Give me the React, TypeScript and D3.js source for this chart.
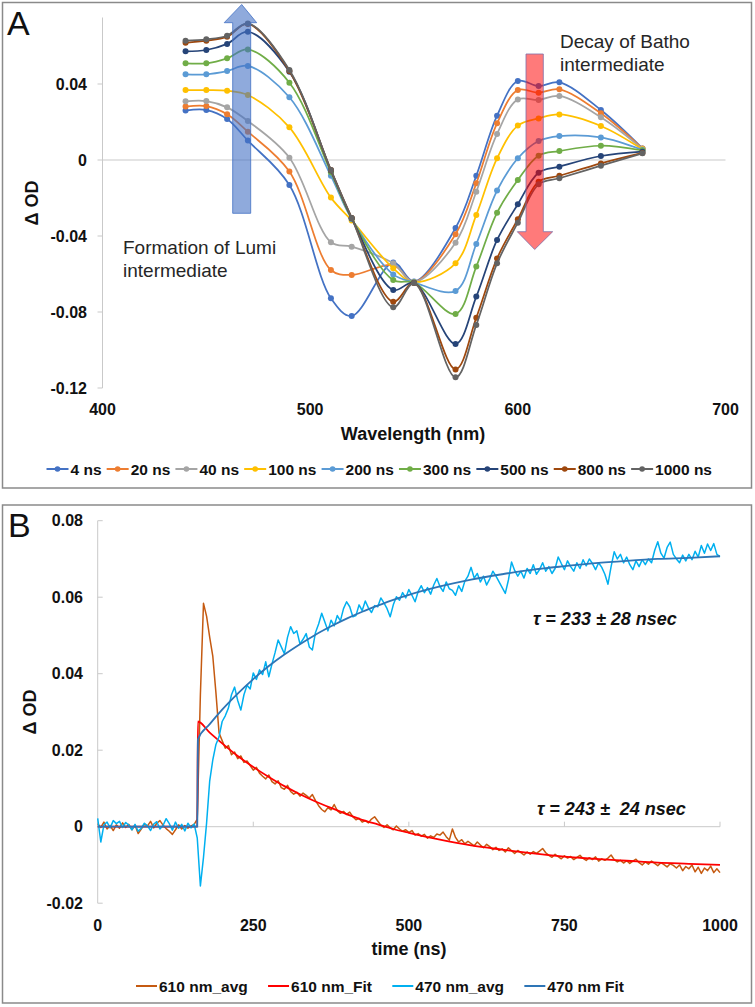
import React from 'react';
import * as d3 from 'd3';

const FONT = "Arial, 'Liberation Sans', Helvetica, sans-serif";

// ---------------- Panel A data ----------------
const wavelengths = [440, 450, 460, 470, 490, 510, 520, 540, 550, 570, 580, 590, 600, 610, 620, 640, 660];
const seriesNames = ['4 ns', '20 ns', '40 ns', '100 ns', '200 ns', '300 ns', '500 ns', '800 ns', '1000 ns'];
const seriesColors = ['#4472C4', '#ED7D31', '#A5A5A5', '#FFC000', '#5B9BD5', '#70AD47', '#264478', '#9E480E', '#636363'];
const od4ns = [0.0260, 0.0263, 0.0216, 0.0102, -0.0132, -0.0728, -0.0821, -0.0540, -0.0640, -0.0358, -0.0083, 0.0233, 0.0416, 0.0389, 0.0409, 0.0263, 0.0061];
const od20ns = [0.0281, 0.0284, 0.0241, 0.0149, -0.0061, -0.0579, -0.0605, -0.0553, -0.0642, -0.0391, -0.0123, 0.0193, 0.0368, 0.0354, 0.0372, 0.0246, 0.0060];
const od40ns = [0.0309, 0.0310, 0.0277, 0.0205, 0.0012, -0.0433, -0.0456, -0.0544, -0.0642, -0.0435, -0.0167, 0.0137, 0.0319, 0.0316, 0.0337, 0.0225, 0.0058];
const od100ns = [0.0368, 0.0368, 0.0365, 0.0342, 0.0172, -0.0198, -0.0318, -0.0570, -0.0643, -0.0544, -0.0289, 0.0009, 0.0181, 0.0219, 0.0240, 0.0179, 0.0056];
const od200ns = [0.0451, 0.0451, 0.0468, 0.0495, 0.0330, -0.0083, -0.0310, -0.0602, -0.0644, -0.0689, -0.0442, -0.0161, 0.0009, 0.0100, 0.0126, 0.0119, 0.0053];
const od300ns = [0.0509, 0.0509, 0.0535, 0.0582, 0.0407, -0.0065, -0.0308, -0.0632, -0.0645, -0.0810, -0.0561, -0.0277, -0.0105, 0.0023, 0.0047, 0.0075, 0.0050];
const od500ns = [0.0572, 0.0579, 0.0611, 0.0675, 0.0465, -0.0055, -0.0306, -0.0684, -0.0646, -0.0968, -0.0719, -0.0421, -0.0233, -0.0067, -0.0035, 0.0021, 0.0044];
const od800ns = [0.0617, 0.0628, 0.0649, 0.0716, 0.0468, -0.0053, -0.0305, -0.0746, -0.0647, -0.1102, -0.0830, -0.0518, -0.0312, -0.0114, -0.0083, -0.0018, 0.0037];
const od1000ns = [0.0628, 0.0635, 0.0654, 0.0719, 0.0474, -0.0053, -0.0305, -0.0775, -0.0648, -0.1144, -0.0868, -0.0544, -0.0330, -0.0128, -0.0096, -0.0030, 0.0035];
const spectra = [od4ns, od20ns, od40ns, od100ns, od200ns, od300ns, od500ns, od800ns, od1000ns];
const ticksA_Y = [-0.12, -0.08, -0.04, 0, 0.04];
const ticksA_X = [400, 500, 600, 700];

// ---------------- Panel B data ----------------
const timeStep = 5; // ns between samples of the averaged traces (t = 0 .. 1000)
const avg610 = [
  0.0008, -0.0002, 0.0012, -0.0006, 0.0003, -0.0010, 0.0005, -0.0004, 0.0010, -0.0002,
  0.0006, -0.0008, 0.0004, -0.0018, -0.0006, 0.0007, 0.0002, 0.0014, -0.0003, 0.0009,
  0.0016, 0.0004, -0.0005, -0.0012, -0.0020, -0.0008, 0.0005, -0.0006, 0.0003, -0.0004,
  0.0002, 0.0006, 0.0020, 0.0345, 0.0584, 0.0550, 0.0495, 0.0445, 0.0350, 0.0245,
  0.0225, 0.0205, 0.0212, 0.0188, 0.0195, 0.0178, 0.0185, 0.0168, 0.0172, 0.0160,
  0.0148, 0.0155, 0.0140, 0.0132, 0.0125, 0.0135, 0.0118, 0.0112, 0.0120, 0.0102,
  0.0098, 0.0108, 0.0092, 0.0085, 0.0090, 0.0080, 0.0088, 0.0082, 0.0075, 0.0084,
  0.0068, 0.0055, 0.0045, 0.0039, 0.0050, 0.0044, 0.0058, 0.0042, 0.0035, 0.0040,
  0.0032, 0.0038, 0.0026, 0.0018, 0.0022, 0.0012, 0.0016, 0.0010, 0.0020, 0.0026,
  0.0015, 0.0004, -0.0002, 0.0005, -0.0003, -0.0008, 0.0002, -0.0006, -0.0012, -0.0008,
  -0.0015, -0.0010, -0.0022, -0.0018, -0.0025, -0.0020, -0.0030, -0.0024, -0.0028, -0.0019,
  -0.0022, -0.0014, -0.0026, -0.0035, -0.0006, -0.0028, -0.0040, -0.0034, -0.0045, -0.0038,
  -0.0044, -0.0050, -0.0040, -0.0048, -0.0055, -0.0046, -0.0052, -0.0060, -0.0054, -0.0062,
  -0.0058, -0.0066, -0.0055, -0.0063, -0.0070, -0.0062, -0.0068, -0.0074, -0.0066, -0.0072,
  -0.0065, -0.0070, -0.0064, -0.0057, -0.0068, -0.0075, -0.0080, -0.0072, -0.0078, -0.0084,
  -0.0076, -0.0082, -0.0078, -0.0086, -0.0080, -0.0075, -0.0083, -0.0088, -0.0081, -0.0086,
  -0.0079, -0.0090, -0.0084, -0.0088, -0.0082, -0.0074, -0.0086, -0.0092, -0.0088, -0.0095,
  -0.0089, -0.0096, -0.0090, -0.0085, -0.0094, -0.0100, -0.0092, -0.0098, -0.0090, -0.0096,
  -0.0102, -0.0094, -0.0099, -0.0105, -0.0097, -0.0101, -0.0108, -0.0100, -0.0115, -0.0104,
  -0.0110, -0.0100, -0.0118, -0.0106, -0.0122, -0.0108, -0.0115, -0.0103, -0.0120, -0.0110,
  -0.0120,
];
const avg470 = [
  0.0022, -0.0040, 0.0005, 0.0012, -0.0003, 0.0016, 0.0008, 0.0014, -0.0002, 0.0011,
  0.0004, -0.0008, 0.0006, -0.0012, -0.0004, 0.0009, 0.0002, -0.0010, 0.0007, 0.0013,
  -0.0006, 0.0003, 0.0021, 0.0008, -0.0009, 0.0012, -0.0004, 0.0006, -0.0011, 0.0009,
  -0.0003, 0.0007, -0.0030, -0.0155, -0.0080, 0.0010, 0.0120, 0.0175, 0.0215, 0.0235,
  0.0275, 0.0290, 0.0310, 0.0345, 0.0365, 0.0330, 0.0305, 0.0345, 0.0370, 0.0360,
  0.0402, 0.0385, 0.0410, 0.0398, 0.0431, 0.0392, 0.0425, 0.0455, 0.0488, 0.0470,
  0.0452, 0.0495, 0.0523, 0.0505, 0.0512, 0.0478, 0.0490, 0.0505, 0.0470, 0.0462,
  0.0508, 0.0530, 0.0558, 0.0535, 0.0512, 0.0540, 0.0525, 0.0552, 0.0538, 0.0570,
  0.0588, 0.0575, 0.0549, 0.0552, 0.0580, 0.0565, 0.0590, 0.0572, 0.0560, 0.0578,
  0.0575, 0.0598, 0.0585, 0.0570, 0.0549, 0.0580, 0.0601, 0.0592, 0.0612, 0.0598,
  0.0620, 0.0605, 0.0588, 0.0615, 0.0630, 0.0612, 0.0625, 0.0608, 0.0632, 0.0649,
  0.0628, 0.0615, 0.0640, 0.0622, 0.0618, 0.0605, 0.0630, 0.0615, 0.0642, 0.0655,
  0.0678, 0.0650, 0.0662, 0.0640, 0.0655, 0.0632, 0.0648, 0.0668, 0.0655, 0.0640,
  0.0625, 0.0610, 0.0645, 0.0692, 0.0670, 0.0655, 0.0668, 0.0650, 0.0675, 0.0662,
  0.0685, 0.0660, 0.0672, 0.0690, 0.0668, 0.0680, 0.0662, 0.0675, 0.0705, 0.0688,
  0.0672, 0.0695, 0.0680, 0.0668, 0.0690, 0.0675, 0.0698, 0.0682, 0.0700, 0.0688,
  0.0672, 0.0690, 0.0678, 0.0660, 0.0634, 0.0680, 0.0719, 0.0700, 0.0712, 0.0690,
  0.0705, 0.0685, 0.0672, 0.0695, 0.0680, 0.0698, 0.0685, 0.0700, 0.0690, 0.0722,
  0.0745, 0.0715, 0.0702, 0.0730, 0.0744, 0.0712, 0.0700, 0.0690, 0.0710, 0.0695,
  0.0712, 0.0698, 0.0720, 0.0705, 0.0735, 0.0715, 0.0739, 0.0722, 0.0740, 0.0712,
  0.0706,
];
const fitTimes = [0, 160, 161, 180, 200, 225, 250, 275, 300, 325, 350, 375, 400, 425, 450, 475, 500, 550, 600, 650, 700, 750, 800, 850, 900, 950, 1000];
const fit610 = [0, 0, 0.0275, 0.0246, 0.0218, 0.0185, 0.0156, 0.0130, 0.0106, 0.0085, 0.0066, 0.0049, 0.0033, 0.0018, 0.0006, -0.0006, -0.0016, -0.0034, -0.0049, -0.0060, -0.0070, -0.0078, -0.0084, -0.0089, -0.0094, -0.0097, -0.0100];
const fit470 = [0, 0, 0.0228, 0.0268, 0.0306, 0.0348, 0.0386, 0.0420, 0.0450, 0.0477, 0.0502, 0.0524, 0.0544, 0.0562, 0.0578, 0.0593, 0.0606, 0.0628, 0.0646, 0.0660, 0.0672, 0.0681, 0.0689, 0.0695, 0.0700, 0.0703, 0.0707];
const ticksB_Y = [-0.02, 0, 0.02, 0.04, 0.06, 0.08];
const ticksB_X = [0, 250, 500, 750, 1000];
const legendB = ['610 nm_avg', '610 nm_Fit', '470 nm_avg', '470 nm Fit'];
const colorsB = ['#C55A11', '#FF0000', '#00B0F0', '#2E75B6'];

let measureCtx: CanvasRenderingContext2D | null = null;
function textWidth(s: string, font: string): number {
  if (!measureCtx) measureCtx = document.createElement('canvas').getContext('2d');
  if (!measureCtx) return s.length * 8;
  measureCtx.font = font;
  return measureCtx.measureText(s).width;
}

const fmt = (v: number) => (v === 0 ? '0' : v.toFixed(2));

function legendLayout(names: string[], x0: number, x1: number, font: string, lineLen: number, textGap: number) {
  const widths = names.map((n) => textWidth(n, font));
  const sum = widths.reduce((a, w) => a + w + lineLen + textGap, 0);
  const gap = (x1 - x0 - sum) / (names.length - 1);
  let x = x0;
  return names.map((n, i) => {
    const item = { name: n, x, textX: x + lineLen + textGap };
    x += lineLen + textGap + widths[i] + gap;
    return item;
  });
}

export default function App() {
  // ---------- Panel A scales ----------
  const xA = d3.scaleLinear().domain([400, 700]).range([102.5, 725.5]);
  const yA = d3.scaleLinear().domain([-0.12, 0.04]).range([388, 84]);
  const yAtop = 0.075;
  const lineA = d3
    .line<number>()
    .x((_, i) => xA(wavelengths[i]))
    .y((d) => yA(d))
    .curve(d3.curveCatmullRom.alpha(0.5));

  // ---------- Panel B scales ----------
  const xB = d3.scaleLinear().domain([0, 1000]).range([97.7, 720]);
  const yB = d3.scaleLinear().domain([-0.02, 0.08]).range([903.2, 520.7]);
  const lineAvg = d3
    .line<number>()
    .x((_, i) => xB(i * timeStep))
    .y((d) => yB(d));
  const lineFit = d3
    .line<number>()
    .x((_, i) => xB(fitTimes[i]))
    .y((d) => yB(d))
    .curve(d3.curveMonotoneX);

  const legFont = `bold 15.5px ${FONT}`;
  const legA = legendLayout(seriesNames, 46.5, 712, legFont, 22, 2);
  const legBItems = legendLayout(legendB, 136, 624, legFont, 21, 2);

  const axisGray = '#c9c9c9';
  const borderGray = '#8a8a8a';

  return (
    <svg
      width={755}
      height={1007}
      style={{ position: 'absolute', left: 0, top: 0, display: 'block', background: '#fff' }}
      fontFamily={FONT}
    >
      <rect x={0} y={0} width={755} height={1007} fill="#fff" />
      {/* ================= Panel A ================= */}
      <rect x={2.5} y={2.5} width={749} height={485.5} fill="#fff" stroke={borderGray} strokeWidth={1.5} />
      <text x={7} y={35} fontSize={34} fill="#111">A</text>

      {/* axes */}
      <line x1={xA(400)} x2={xA(400)} y1={yA(yAtop)} y2={yA(-0.12)} stroke={axisGray} strokeWidth={1} />
      <line x1={xA(400)} x2={xA(700)} y1={yA(0)} y2={yA(0)} stroke={axisGray} strokeWidth={1} />
      {ticksA_Y.map((v) => (
        <g key={'ay' + v}>
          <line x1={xA(400) - 5} x2={xA(400)} y1={yA(v)} y2={yA(v)} stroke={axisGray} />
          <text x={87} y={yA(v)} textAnchor="end" dominantBaseline="central" fontSize={16} fontWeight="bold" fill="#111">
            {fmt(v)}
          </text>
        </g>
      ))}
      {ticksA_X.map((v) => (
        <text key={'ax' + v} x={xA(v)} y={409} textAnchor="middle" dominantBaseline="central" fontSize={16} fontWeight="bold" fill="#111">
          {v}
        </text>
      ))}
      <text x={413} y={434} textAnchor="middle" dominantBaseline="central" fontSize={18} fontWeight="bold" fill="#111">
        Wavelength (nm)
      </text>
      <text
        transform={`translate(32,203) rotate(-90)`}
        textAnchor="middle"
        dominantBaseline="central"
        fontSize={18}
        fontWeight="bold"
        fill="#111"
      >
        Δ OD
      </text>

      {/* series */}
      {spectra.map((s, k) => (
        <g key={'s' + k}>
          <path d={lineA(s) || ''} fill="none" stroke={seriesColors[k]} strokeWidth={1.75} />
          {s.map((v, i) => (
            <circle key={i} cx={xA(wavelengths[i])} cy={yA(v)} r={3} fill={seriesColors[k]} />
          ))}
        </g>
      ))}

      {/* arrows */}
      <path
        d="M232.7,213.3 L250.7,213.3 L250.7,22.7 L256.7,22.7 L241.7,4.5 L224.2,22.7 L232.7,22.7 Z"
        fill="#4472C4"
        fillOpacity={0.6}
        stroke="#4472C4"
        strokeOpacity={0.8}
        strokeWidth={1}
      />
      <path
        d="M526,54 L543.3,54 L543.3,231.7 L552.7,231.7 L534.7,249.5 L517.3,231.7 L526,231.7 Z"
        fill="#FF0000"
        fillOpacity={0.52}
        stroke="#7F6FA8"
        strokeOpacity={0.8}
        strokeWidth={1}
      />

      {/* annotations */}
      <text x={123} y={254} fontSize={19} fill="#262626">Formation of Lumi</text>
      <text x={123} y={277} fontSize={19} fill="#262626">intermediate</text>
      <text x={560} y={48} fontSize={19} fill="#262626">Decay of Batho</text>
      <text x={560} y={71} fontSize={19} fill="#262626">intermediate</text>

      {/* legend A */}
      {legA.map((it, k) => (
        <g key={'la' + k}>
          <line x1={it.x} x2={it.x + 22} y1={469} y2={469} stroke={seriesColors[k]} strokeWidth={2} />
          <circle cx={it.x + 11} cy={469} r={2.8} fill={seriesColors[k]} />
          <text x={it.textX} y={469} dominantBaseline="central" fontSize={15.5} fontWeight="bold" fill="#111">
            {it.name}
          </text>
        </g>
      ))}

      {/* ================= Panel B ================= */}
      <rect x={2.5} y={505} width={749} height={498} fill="#fff" stroke={borderGray} strokeWidth={1.5} />
      <text x={8} y={537} fontSize={34} fill="#111">B</text>

      <line x1={xB(0)} x2={xB(0)} y1={yB(0.08)} y2={yB(-0.02)} stroke={axisGray} />
      <line x1={xB(0)} x2={xB(1000)} y1={yB(0)} y2={yB(0)} stroke={axisGray} />
      {ticksB_Y.map((v) => (
        <g key={'by' + v}>
          <line x1={xB(0)} x2={xB(0) + 5} y1={yB(v)} y2={yB(v)} stroke={axisGray} />
          <text x={83} y={yB(v)} textAnchor="end" dominantBaseline="central" fontSize={16} fontWeight="bold" fill="#111">
            {fmt(v)}
          </text>
        </g>
      ))}
      {ticksB_X.map((v) => (
        <g key={'bx' + v}>
          <line x1={xB(v)} x2={xB(v)} y1={yB(0) - 5} y2={yB(0)} stroke={axisGray} />
          <text x={xB(v)} y={925} textAnchor="middle" dominantBaseline="central" fontSize={16} fontWeight="bold" fill="#111">
            {v}
          </text>
        </g>
      ))}
      <text x={409} y={949} textAnchor="middle" dominantBaseline="central" fontSize={18} fontWeight="bold" fill="#111">
        time (ns)
      </text>
      <text
        transform={`translate(30,712) rotate(-90)`}
        textAnchor="middle"
        dominantBaseline="central"
        fontSize={18}
        fontWeight="bold"
        fill="#111"
      >
        Δ OD
      </text>

      <path d={lineAvg(avg610) || ''} fill="none" stroke={colorsB[0]} strokeWidth={1.5} strokeLinejoin="round" />
      <path d={lineFit(fit610) || ''} fill="none" stroke={colorsB[1]} strokeWidth={1.8} />
      <path d={lineAvg(avg470) || ''} fill="none" stroke={colorsB[2]} strokeWidth={1.5} strokeLinejoin="round" />
      <path d={lineFit(fit470) || ''} fill="none" stroke={colorsB[3]} strokeWidth={1.8} />

      <text x={533} y={625} fontSize={18} fontWeight="bold" fontStyle="italic" fill="#111">
        τ = 233 ± 28 nsec
      </text>
      <text x={537} y={815} fontSize={18} fontWeight="bold" fontStyle="italic" fill="#111" style={{ whiteSpace: 'pre' }}>
        {'τ = 243 ±  24 nsec'}
      </text>

      {legBItems.map((it, k) => (
        <g key={'lb' + k}>
          <line x1={it.x} x2={it.x + 21} y1={986} y2={986} stroke={colorsB[k]} strokeWidth={2} />
          <text x={it.textX} y={986} dominantBaseline="central" fontSize={15.5} fontWeight="bold" fill="#111">
            {it.name}
          </text>
        </g>
      ))}
    </svg>
  );
}
